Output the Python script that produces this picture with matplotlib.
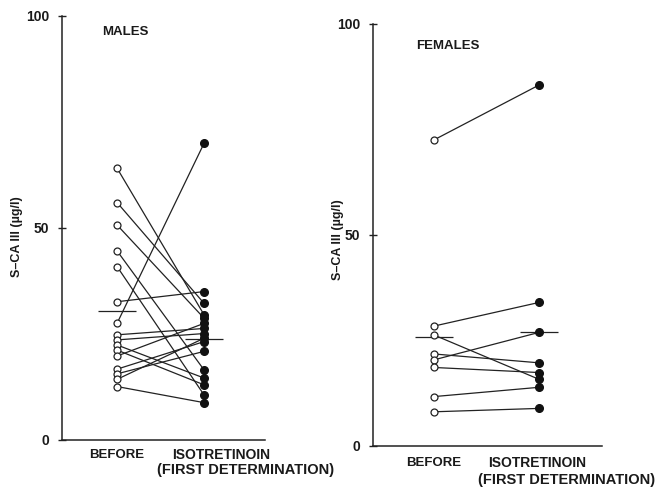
import matplotlib.pyplot as plt
import numpy as np

# S-CA III (ug/l) before and during isotretinoin, paired per patient
male_before = [64.1, 56.0, 50.7, 44.6, 40.9, 32.6, 27.5, 24.8,
               23.6, 22.4, 21.2, 19.8, 16.7, 15.6, 14.3, 12.6]
male_after = [29.5, 32.2, 28.7, 16.5, 10.6, 35.0, 70.0, 26.3,
              25.1, 14.6, 13.0, 27.5, 23.2, 20.9, 24.0, 8.8]
male_means = [30.5, 23.7]

female_before = [72.5, 28.4, 26.3, 21.8, 20.4, 18.6, 11.7, 8.1]
female_after = [85.5, 34.0, 15.8, 19.7, 26.9, 17.4, 13.9, 8.9]
female_means = [25.9, 26.9]

groups = ["BEFORE", "ISOTRETINOIN", "(FIRST DETERMINATION)"]
yticks = [0, 50, 100]
ylabel = "S\u2013CA III (\u00b5g/l)"

fnt = dict(family="Liberation Sans", fontweight="bold", color="#1a1a1a")


def draw_panel(ax, before, after, means, title, xlim, half):
    for b, a in zip(before, after):
        ax.plot([0, 1], [b, a], color="#222222", lw=0.9, zorder=1)
    ax.plot(np.zeros(len(before)), before, "o", ms=5, mfc="white",
            mec="#222222", mew=0.9, zorder=3)
    ax.plot(np.ones(len(after)), after, "o", ms=5.5, mfc="#111111",
            mec="#111111", zorder=3)
    ax.hlines(means, [-half, 1 - half], [half, 1 + half], color="#222222",
              lw=0.9, zorder=2)
    ax.set_xlim(*xlim)
    ax.set_ylim(0, 100)
    ax.set_yticks(yticks)
    ax.set_yticklabels([str(t) for t in yticks], fontsize=10, **fnt)
    ax.set_xticks([])
    for s in ["top", "right"]:
        ax.spines[s].set_visible(False)
    for s in ["left", "bottom"]:
        ax.spines[s].set_linewidth(1.1)
        ax.spines[s].set_color("#222222")
    ax.tick_params(axis="y", direction="inout", length=6, width=1, pad=6,
                   color="#222222")
    ax.set_ylabel(ylabel, fontsize=9, **fnt)
    ax.text(0.2, 0.955, title, transform=ax.transAxes, fontsize=9.5, **fnt)


fig = plt.figure(figsize=(6.59, 4.88), dpi=100)
ax1 = fig.add_axes([0.0941, 0.0984, 0.308, 0.869])
ax2 = fig.add_axes([0.566, 0.0861, 0.3475, 0.865])

draw_panel(ax1, male_before, male_after, male_means, "MALES",
           (-0.632, 1.699), 0.22)
draw_panel(ax2, female_before, female_after, female_means, "FEMALES",
           (-0.58, 1.60), 0.18)
ax1.yaxis.set_label_coords(-0.19, 0.48)
ax2.yaxis.set_label_coords(-0.126, 0.49)
ax2.texts[0].set_position((0.19, 0.94))

# category labels under the axes
ax1.text(0, -0.035, groups[0], transform=ax1.get_xaxis_transform(),
         ha="center", va="center", fontsize=9.5, **fnt)
ax1.text(1.2, -0.035, groups[1], transform=ax1.get_xaxis_transform(),
         ha="center", va="center", fontsize=10, **fnt)
ax1.text(1.48, -0.071, groups[2],
         transform=ax1.get_xaxis_transform(),
         ha="center", va="center", fontsize=10.5, **fnt)
ax2.text(0, -0.04, groups[0], transform=ax2.get_xaxis_transform(),
         ha="center", va="center", fontsize=9.5, **fnt)
ax2.text(0.98, -0.04, groups[1], transform=ax2.get_xaxis_transform(),
         ha="center", va="center", fontsize=10, **fnt)
ax2.text(1.26, -0.08, groups[2], transform=ax2.get_xaxis_transform(),
         ha="center", va="center", fontsize=10.5, **fnt)

fig.savefig("out.png", dpi=100)
